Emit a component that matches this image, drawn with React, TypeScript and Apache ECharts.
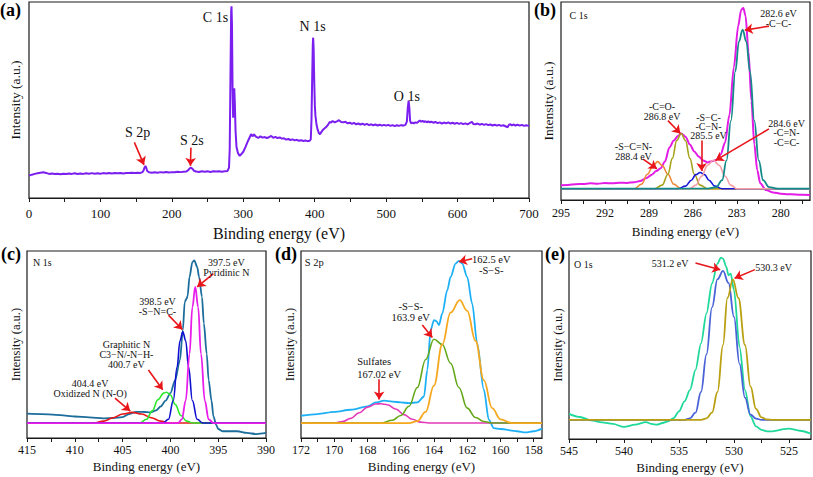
import React, { useEffect, useRef } from "react";
import * as echarts from "echarts";

type P = [number, number];
type Note = [number, number, string];
type Arrow = [number, number, number, number];

const FONT = "Liberation Serif, DejaVu Serif";

// ---------- (a) survey ----------
const surveySpectrum: P[] = [[0,11.4],[4,11.9],[8,12.3],[12,12.6],[16,12.9],[20,13.1],[24,12.8],[28,12.3],[32,12.5],[36,12.2],[40,12.4],[44,12.1],[48,12.4],[52,12.2],[56,12.5],[60,12.3],[64,12.6],[68,12.2],[72,12.5],[76,12.3],[80,12.6],[84,12.4],[88,12.7],[92,12.4],[96,12.6],[100,12.4],[104,12.7],[108,12.5],[112,12.8],[116,12.5],[120,12.7],[124,12.6],[128,12.8],[132,12.5],[136,12.8],[140,12.7],[144,12.9],[148,12.7],[152,12.9],[156,12.8],[159,13.2],[160.5,14.2],[162,15.8],[163,16.3],[164,15.6],[165.5,13.8],[168,13.1],[172,12.9],[176,13.1],[180,12.9],[184,13.2],[188,13.0],[192,13.3],[196,13.0],[200,13.2],[204,13.1],[208,13.4],[212,13.2],[216,13.4],[220,13.5],[223,14.2],[225,15.1],[227,15.5],[229,14.8],[231,13.9],[234,13.5],[238,13.3],[242,13.6],[246,13.4],[250,13.6],[254,13.3],[258,13.6],[262,13.5],[266,13.7],[270,13.4],[274,13.6],[278,13.8],[280,15.5],[281,25],[282,60],[283,95],[283.5,97.8],[284.2,88],[285,55],[285.8,41],[286.6,50],[287.4,56],[288.2,48],[289.2,34],[290.5,26],[292.5,23],[295,21.5],[297,22.3],[300,23.6],[303,26],[306,28.6],[309,31],[311,32.6],[313,31.5],[315,32.4],[318,31.2],[321,30.7],[324,31.4],[327,30.8],[330,31.1],[333,30.6],[336,31],[339,31.7],[342,30.7],[345,31.2],[348,30.6],[351,30.9],[354,30.3],[357,30.5],[360,29.8],[363,30.1],[366,29.6],[369,29.9],[372,29.4],[375,29.7],[378,29.2],[381,29.5],[384,29.1],[387,29.3],[390,29.0],[393,29.2],[394.5,30],[395.5,40],[396.5,62],[397.3,78],[397.8,81.8],[398.5,76],[399.3,60],[400.2,47],[401,42],[402.5,37.5],[404,35],[406,33],[407.5,32.5],[409,33.5],[412,35],[416,36.2],[419,37.6],[421,38.8],[423,38.4],[425,39.3],[428,38.6],[431,39.1],[434,39.7],[437,38.8],[440,38.6],[443,38.9],[446,38.1],[449,38.4],[452,37.8],[455,38.3],[458,37.6],[461,38],[464,37.5],[467,37.9],[470,37.3],[473,37.8],[476,37.2],[479,37.6],[482,37.1],[485,37.5],[488,37],[491,37.4],[494,36.9],[497,37.3],[500,36.9],[503,37.3],[506,36.8],[509,37.2],[512,36.7],[515,37.1],[518,36.8],[521,37.2],[524,36.9],[527,37.3],[529,39],[530.3,46],[531.5,49.7],[532.5,46],[533.5,39.5],[535,38],[537,38.5],[539,38.1],[541,38.6],[543,38.3],[545,38.9],[547,39.5],[549,39],[551,39.4],[553,38.7],[555,39.2],[557,38.6],[559,39.1],[561,38.5],[563,39],[566,38.4],[569,38.8],[572,38.2],[575,38.6],[578,38],[581,38.5],[584,38.1],[587,38.6],[590,38],[593,38.4],[596,37.9],[599,38.3],[602,37.8],[605,38.2],[608,37.7],[611,38.1],[614,37.6],[617,38.2],[620,38.9],[622,37.8],[625,37.6],[628,38],[631,37.4],[634,37.8],[637,37.3],[640,37.7],[643,37.2],[646,37.5],[649,37],[652,37.4],[655,36.9],[658,37.3],[661,36.8],[664,37.1],[667,36.6],[670,36.1],[672,37.4],[674,37.6],[676,37],[678,37.5],[681,37],[684,37.4],[687,36.9],[690,37.3],[693,36.8],[696,37.1],[700,36.8]];
const surveyNotes: Note[] = [[261,92.3,"C 1s"],[397,87.6,"N 1s"],[529,51.8,"O 1s"],[152,33.6,"S 2p"],[228,29.3,"S 2s"]];
const surveyArrows: Arrow[] = [[147.5,28.4,161,16.9],[226.7,25.7,226,16.4]];
const surveyTickLabels = [0,100,200,300,400,500,600,700];
const surveyTickMarks = [0,50,100,150,200,250,300,350,400,450,500,550,600,650,700];

// ---------- (b) C 1s ----------
const c1sEnvelope: P[] = [[295,7.4],[294.5,7.6],[294,8.0],[293.5,8.1],[293,8.4],[292.5,8.2],[292,8.6],[291.5,8.4],[291,8.7],[290.5,8.6],[290,9.0],[289.6,9.6],[289.2,11.0],[288.8,12.8],[288.5,14.6],[288.2,16.0],[287.9,19.5],[287.6,26.5],[287.3,30],[287.0,32.5],[286.8,33.6],[286.5,32],[286.2,28],[285.9,24.5],[285.6,22],[285.3,20],[285.0,19],[284.7,19.6],[284.4,20.2],[284.1,23],[283.8,29],[283.5,43],[283.2,67],[282.9,88],[282.7,96],[282.55,97],[282.4,93],[282.2,75],[282.0,50],[281.8,28],[281.6,15],[281.4,8.5],[281.0,5],[280.5,3.8],[280,3.2],[279.5,2.9],[279,2.8],[278.5,2.6],[278,2.5]];
const c1sCC: P[] = [[295,5.7],[285,5.7],[284.4,6.5],[284.0,10],[283.7,20],[283.4,40],[283.1,65],[282.85,80],[282.6,86],[282.35,80],[282.1,65],[281.8,40],[281.5,20],[281.2,10],[280.8,6.5],[280.2,5.7],[278,5.7]];
const c1sCO: P[] = [[295,5.7],[288.6,5.7],[288.1,7.5],[287.7,13],[287.4,21],[287.1,30],[286.8,33.6],[286.5,30],[286.2,21],[285.9,13],[285.5,7.5],[285.0,5.7],[278,5.7]];
const c1sSCN: P[] = [[295,5.7],[290.0,5.7],[289.5,8],[289.1,13],[288.7,17.5],[288.4,19.4],[288.1,17.5],[287.7,13],[287.3,8],[286.8,5.7],[278,5.7]];
const c1sSC: P[] = [[295,5.7],[287.0,5.7],[286.5,7],[286.1,10],[285.8,12.8],[285.5,13.9],[285.2,12.8],[284.9,10],[284.5,7],[284.0,5.7],[278,5.7]];
const c1sCN: P[] = [[295,5.7],[286.2,5.7],[285.8,7.5],[285.4,12],[285.0,17.5],[284.6,20.1],[284.2,17.5],[283.8,12],[283.4,7.5],[283.0,5.7],[278,5.7]];
const c1sNotes: Note[] = [[293.8,93.4,"C 1s"],[280.15,91.7,"282.6 eV\n-C−C-"],[288.1,44.75,"-C=O-\n286.8 eV"],[290.05,24.45,"-S−C=N-\n288.4 eV"],[284.93,37.1,"-S−C-\n-C−N-\n285.5 eV"],[279.6,34,"284.6 eV\n-C=N-\n-C=C-"]];
const c1sArrows: Arrow[] = [[280.8,87.8,282.45,85.8],[287.7,40.1,286.85,33.6],[289.4,20.6,288.45,15.8],[285.4,30,285.4,14.6],[280.8,35.9,284.45,20]];
const c1sTickLabels = [295,292,289,286,283,280];
const c1sTickMarks = [295,293.5,292,290.5,289,287.5,286,284.5,283,281.5,280,278.5];

// ---------- (c) N 1s ----------
const n1sEnvelope: P[] = [[415,13],[413.5,12.8],[412,12.4],[411,12],[410,11.5],[408.5,11],[407,10.5],[406,10.7],[405,11.2],[404.3,12.8],[403.6,13.9],[403,14],[402.4,13.8],[402,13.7],[401.5,14.8],[401,16.9],[400.5,20],[400,24],[399.5,31],[399,41.7],[398.7,57.7],[398.5,72.8],[398.3,74.6],[398.2,76],[398,86.1],[397.7,94.1],[397.5,95],[397.2,91.5],[397,86.1],[396.7,75.5],[396.5,61.3],[396.2,45],[396,31],[395.7,20],[395.5,11.5],[395.2,7],[395,4.8],[394.5,3.6],[393,3.6],[392,2.7],[391,2.1],[390,2.7]];
const n1sPyridinic: P[] = [[415,8],[399.2,8],[398.8,10],[398.4,20],[398.0,45],[397.7,70],[397.4,80.8],[397.1,70],[396.8,45],[396.4,20],[396.0,10],[395.5,8],[390,8]];
const n1sSNC: P[] = [[415,8],[400.8,8],[400.2,10],[399.7,20],[399.3,38],[399.0,52],[398.7,56.8],[398.4,52],[398.1,38],[397.7,20],[397.2,10],[396.6,8],[390,8]];
const n1sGraphitic: P[] = [[415,8],[403.2,8],[402.5,10],[401.9,14.5],[401.3,20.5],[400.7,24],[400.4,24.5],[400.0,23],[399.5,18],[398.9,12],[398.3,9],[397.6,8],[390,8]];
const n1sOxidized: P[] = [[415,8],[408.0,8],[407.0,9],[406.0,10.8],[405.0,12.8],[404.0,13.7],[403.0,12.8],[402.0,10.8],[401.0,9],[400.2,8],[390,8]];
const n1sNotes: Note[] = [[413.4,93.8,"N 1s"],[394.15,91.3,"397.5 eV\nPyridinic N"],[401.35,70.15,"398.5 eV\n-S−N=C-"],[404.6,44.4,"Graphitic N\nC3−N/-N−H-\n400.7 eV"],[408.4,26.45,"404.4 eV\nOxidized N (N-O)"]];
const n1sArrows: Arrow[] = [[395.5,87.9,397.2,80.8],[400.2,65.7,398.75,58],[402.3,36.4,400.8,25.8],[405.8,21.3,404.2,14.4]];
const n1sTickLabels = [415,410,405,400,395,390];
const n1sTickMarks = [415,412.5,410,407.5,405,402.5,400,397.5,395,392.5,390];

// ---------- (d) S 2p ----------
const s2pEnvelope: P[] = [[172,11.9],[171,12.8],[170,14],[169,15.1],[168,16.9],[167.5,19],[167,20],[166.5,19.5],[166,19],[165.5,18.7],[165,19],[164.6,22.2],[164.4,36.4],[164.2,57.7],[164.0,63],[163.85,62.5],[163.7,60.4],[163.5,66.6],[163.2,79],[163.0,86.1],[162.7,93.3],[162.5,94.7],[162.3,93.3],[162.0,86.1],[161.7,71.9],[161.4,50.6],[161.0,25.8],[160.7,9.8],[160.4,5.3],[160,4.8],[159,3.6],[158.5,3],[158,3.6],[157.5,5]];
const s2pSS1: P[] = [[172,8],[165.5,8],[165.0,9],[164.5,14],[164.0,28],[163.5,50],[163.0,67],[162.45,73.7],[162.0,68],[161.5,52],[161.0,31],[160.5,16],[160.0,10],[159.3,8],[157.5,8]];
const s2pSS2: P[] = [[172,8],[167.2,8],[166.5,9.5],[166.0,12],[165.5,17],[165.0,27],[164.5,42],[164.0,52.8],[163.5,50],[163.0,40],[162.5,27],[162.0,16],[161.5,11],[161.0,8.8],[160.5,8],[157.5,8]];
const s2pSulfates: P[] = [[172,8],[170.0,8],[169.5,8.8],[169.0,10.5],[168.5,13.5],[168.0,16.5],[167.5,18.2],[167.2,18.3],[166.8,17.8],[166.3,15.5],[165.8,12.5],[165.3,10],[164.8,8.5],[164.3,8],[157.5,8]];
const s2pNotes: Note[] = [[171.2,93.8,"S 2p"],[160.55,92.55,"162.5 eV\n-S−S-"],[165.4,67.5,"-S−S-\n163.9 eV"],[167.6,40.9,"Sulfates"],[167.3,33.7,"167.02 eV"]];
const s2pArrows: Arrow[] = [[161.7,95.9,162.5,94.3],[164.7,60.4,164.1,53.8],[167.3,31.4,167.3,20.6]];
const s2pTickLabels = [172,170,168,166,164,162,160,158];
const s2pTickMarks = [172,171,170,169,168,167,166,165,164,163,162,161,160,159,158];

// ---------- (e) O 1s ----------
const o1sEnvelope: P[] = [[545,13.4],[544,11.7],[543,9.9],[542,8.8],[541,8],[540,6.4],[539,7.6],[538,9],[537.5,8],[537,7.6],[536.5,8.5],[536,9.4],[535.5,11.1],[535,14.7],[534.5,20],[534,26.1],[533.5,36.7],[533,50.9],[532.5,66.8],[532,82.7],[531.5,93.3],[531.2,96.5],[531.0,95.9],[530.7,91.5],[530.5,87.1],[530.3,88],[530.0,79.2],[529.5,49.1],[529.0,26.1],[528.5,12],[528,6.7],[527.5,4.9],[527,4.1],[526.5,4.1],[526,4.6],[525.5,5.3],[525,5.5],[524,4.4],[523,2.8]];
const o1sPeak1: P[] = [[545,10.2],[534.5,10.2],[534.0,11],[533.5,14],[533.0,25],[532.5,45],[532.0,70],[531.5,85],[531.0,89.4],[530.5,83],[530.0,65],[529.5,40],[529.0,22],[528.5,13],[528.0,10.8],[527.5,10.2],[523,10.2]];
const o1sPeak2: P[] = [[545,10.2],[533.0,10.2],[532.5,11],[532.0,14],[531.5,25],[531.0,50],[530.6,75],[530.1,84.8],[529.6,75],[529.0,50],[528.5,28],[528.0,16],[527.5,11.5],[527.0,10.4],[526.5,10.2],[523,10.2]];
const o1sNotes: Note[] = [[543.7,92.9,"O 1s"],[535.8,93.3,"531.2 eV"],[526.4,91,"530.3 eV"]];
const o1sArrows: Arrow[] = [[533.5,93.6,531.25,90],[528.1,90.1,529.95,85.5]];
const o1sTickLabels = [545,540,535,530,525];
const o1sTickMarks = [545,542.5,540,537.5,535,532.5,530,527.5,525];

const X_TITLE = "Binding energy (eV)";
const Y_TITLE = "Intensity (a.u.)";

function sorted(d: P[]): P[] {
  return d.slice().sort((a, b) => a[0] - b[0]);
}

export default function App() {
  const ref = useRef<HTMLDivElement>(null);

  useEffect(() => {
    document.body.style.margin = "0";
    if (!ref.current) return;
    const chart = echarts.init(ref.current, undefined, { renderer: "svg" });

    const panels = [
      {
        grid: { left: 27, top: 2, width: 502, height: 196 },
        min: 0, max: 700, inverse: false,
        labels: surveyTickLabels, ticks: surveyTickMarks,
        labelSize: 13, labelMargin: 9, titleSize: 16, nameGap: 27,
        yTitleSize: 13.5, yGap: 7, noteSize: 14, lineH: 14,
        curves: [{ d: surveySpectrum, c: "#7A1FF0", w: 2, s: false }],
        notes: surveyNotes, arrows: surveyArrows,
      },
      {
        grid: { left: 561, top: 2, width: 249, height: 198 },
        min: 278, max: 295, inverse: true,
        labels: c1sTickLabels, ticks: c1sTickMarks,
        labelSize: 12, labelMargin: 7, titleSize: 13, nameGap: 25,
        yTitleSize: 13.5, yGap: 6, noteSize: 10, lineH: 9.4,
        curves: [
          { d: c1sEnvelope, c: "#E21BE5", w: 2, s: 0.3 },
          { d: c1sSCN, c: "#EE8A3C", w: 1.6, s: 0.4 },
          { d: c1sCO, c: "#A6A21B", w: 1.6, s: 0.4 },
          { d: c1sSC, c: "#1818D8", w: 1.6, s: 0.4 },
          { d: c1sCN, c: "#F4A0A8", w: 1.6, s: 0.4 },
          { d: c1sCC, c: "#138A8A", w: 1.8, s: 0.4 },
        ],
        notes: c1sNotes, arrows: c1sArrows,
      },
      {
        grid: { left: 27, top: 251, width: 239, height: 187 },
        min: 390, max: 415, inverse: true,
        labels: n1sTickLabels, ticks: n1sTickMarks,
        labelSize: 12, labelMargin: 6, titleSize: 13, nameGap: 22,
        yTitleSize: 12.5, yGap: 5, noteSize: 10, lineH: 10,
        curves: [
          { d: n1sEnvelope, c: "#1C6C9C", w: 1.8, s: 0.3 },
          { d: n1sOxidized, c: "#E81818", w: 1.6, s: 0.4 },
          { d: n1sGraphitic, c: "#2EE82E", w: 1.6, s: 0.4 },
          { d: n1sSNC, c: "#1010D0", w: 1.6, s: 0.4 },
          { d: n1sPyridinic, c: "#E81CEB", w: 1.8, s: 0.4 },
        ],
        notes: n1sNotes, arrows: n1sArrows,
      },
      {
        grid: { left: 301, top: 251, width: 241, height: 187 },
        min: 157.5, max: 172, inverse: true,
        labels: s2pTickLabels, ticks: s2pTickMarks,
        labelSize: 12, labelMargin: 6, titleSize: 13, nameGap: 22,
        yTitleSize: 12.5, yGap: 4.5, noteSize: 10.5, lineH: 11.5,
        curves: [
          { d: s2pEnvelope, c: "#1EB0F5", w: 1.8, s: 0.3 },
          { d: s2pSulfates, c: "#E23AB8", w: 1.6, s: 0.4 },
          { d: s2pSS2, c: "#64A81A", w: 1.6, s: 0.4 },
          { d: s2pSS1, c: "#F5A81E", w: 1.8, s: 0.4 },
        ],
        notes: s2pNotes, arrows: s2pArrows,
      },
      {
        grid: { left: 569, top: 251, width: 242, height: 188 },
        min: 523, max: 545, inverse: true,
        labels: o1sTickLabels, ticks: o1sTickMarks,
        labelSize: 12, labelMargin: 6, titleSize: 13, nameGap: 22,
        yTitleSize: 12.5, yGap: 4.5, noteSize: 10, lineH: 11,
        curves: [
          { d: o1sEnvelope, c: "#1FD89A", w: 1.8, s: 0.3 },
          { d: o1sPeak1, c: "#4A62D8", w: 1.8, s: 0.4 },
          { d: o1sPeak2, c: "#B8A010", w: 1.8, s: 0.4 },
        ],
        notes: o1sNotes, arrows: o1sArrows,
      },
    ];

    const grid = panels.map((p) => ({
      ...p.grid,
      show: true,
      borderColor: "#1a1a1a",
      borderWidth: 1.2,
      backgroundColor: "transparent",
      containLabel: false,
    }));

    const xAxis = panels.map((p, i) => ({
      type: "value",
      gridIndex: i,
      min: p.min,
      max: p.max,
      inverse: p.inverse,
      name: X_TITLE,
      nameLocation: "middle",
      nameGap: p.nameGap,
      nameTextStyle: { fontFamily: FONT, fontSize: p.titleSize, color: "#111" },
      axisLine: { show: true, onZero: false, lineStyle: { color: "#1a1a1a", width: 1.2 } },
      axisTick: {
        show: true, inside: false, length: 4,
        lineStyle: { color: "#1a1a1a", width: 1 },
        customValues: p.ticks,
      },
      axisLabel: {
        show: true, margin: p.labelMargin, color: "#111",
        fontFamily: FONT, fontSize: p.labelSize,
        customValues: p.labels,
      },
      splitLine: { show: false },
    }));

    const yAxis = panels.map((p, i) => ({
      type: "value",
      gridIndex: i,
      min: 0,
      max: 100,
      name: Y_TITLE,
      nameLocation: "middle",
      nameGap: p.yGap,
      nameTextStyle: { fontFamily: FONT, fontSize: p.yTitleSize, color: "#111" },
      axisLine: { show: false },
      axisTick: { show: false },
      axisLabel: { show: false },
      splitLine: { show: false },
    }));

    const series: any[] = [];
    panels.forEach((p, i) => {
      p.curves.forEach((c, k) => {
        const s: any = {
          type: "line",
          xAxisIndex: i,
          yAxisIndex: i,
          data: sorted(c.d),
          showSymbol: false,
          symbol: "none",
          smooth: c.s,
          smoothMonotone: "x",
          lineStyle: { color: c.c, width: c.w },
          itemStyle: { color: c.c },
          silent: true,
          z: 2 + k,
        };
        if (k === 0) {
          s.markLine = {
            silent: true,
            symbol: ["none", "arrow"],
            symbolSize: 8,
            lineStyle: { color: "#E8161B", width: 1.6, type: "solid" },
            label: { show: false },
            emphasis: { disabled: true },
            data: p.arrows.map(([x1, y1, x2, y2]) => [
              { coord: [x1, y1] },
              { coord: [x2, y2] },
            ]),
            z: 20,
          };
          s.markPoint = {
            silent: true,
            symbol: "circle",
            symbolSize: 1,
            itemStyle: { color: "transparent" },
            label: {
              show: true,
              position: "inside",
              formatter: "{b}",
              color: "#111",
              fontFamily: FONT,
              fontSize: p.noteSize,
              lineHeight: p.lineH,
              align: "center",
            },
            data: p.notes.map(([x, y, t]) => ({ name: t, value: t, coord: [x, y] })),
            z: 21,
          };
        }
        series.push(s);
      });
    });

    const letters = [
      { t: "(a)", x: 0, y: 1 },
      { t: "(b)", x: 534, y: 1 },
      { t: "(c)", x: 1, y: 245 },
      { t: "(d)", x: 275, y: 245 },
      { t: "(e)", x: 545, y: 245 },
    ];

    chart.setOption({
      animation: false,
      textStyle: { fontFamily: FONT },
      grid,
      xAxis,
      yAxis,
      series,
      graphic: letters.map((l) => ({
        type: "text",
        left: l.x,
        top: l.y,
        style: {
          text: l.t,
          fontFamily: FONT,
          fontWeight: "bold",
          fontSize: 18,
          fill: "#000",
        },
      })),
    });

    return () => chart.dispose();
  }, []);

  return <div ref={ref} style={{ width: 813, height: 477 }} />;
}
